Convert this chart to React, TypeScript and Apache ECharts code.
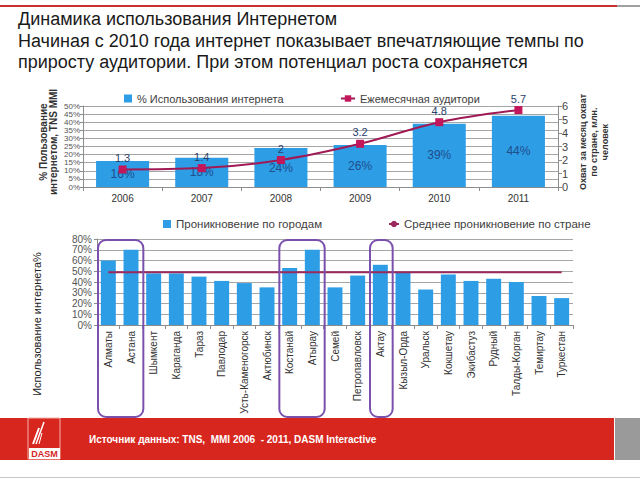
import React, { useEffect, useRef } from "react";
import * as echarts from "echarts";

const years = ["2006", "2007", "2008", "2009", "2010", "2011"];
const usagePct = [16, 18, 24, 26, 39, 44];
const audienceMln = [1.3, 1.4, 2, 3.2, 4.8, 5.7];

const cities = [
  "Алматы", "Астана", "Шымкент", "Караганда", "Тараз", "Павлодар",
  "Усть-Каменогорск", "Актюбинск", "Костанай", "Атырау", "Семей",
  "Петропавловск", "Актау", "Кызыл-Орда", "Уральск", "Кокшетау",
  "Экибастуз", "Рудный", "Талды-Корган", "Темиртау", "Туркестан",
];
const cityPct = [60, 70, 48, 48, 45, 41, 39, 35, 53, 70, 35, 46, 56, 49, 33, 47, 41, 43, 40, 27, 25];
const countryAvgPct = 49;
const highlightGroups = [["Алматы", "Астана"], ["Костанай", "Атырау"], ["Актау", "Актау"]];

const titleLines = [
  "Динамика использования Интернетом",
  "Начиная с 2010 года интернет показывает впечатляющие темпы по",
  "приросту аудитории. При этом потенциал роста сохраняется",
];
const sourceText = "Источник данных: TNS,  MMI 2006  - 2011, DASM Interactive";

const FONT = "Liberation Sans, Arial, sans-serif";
const BLUE = "#2d9de6";
const LINE = "#a01a55";
const MARK = "#c2185b";

export default function App() {
  const ref = useRef<HTMLDivElement>(null);
  useEffect(() => {
    if (!ref.current) return;
    const chart = echarts.init(ref.current, null, { renderer: "svg" });
    const option: any = {
      animation: false,
      textStyle: { fontFamily: FONT },
      legend: [
        {
          left: 119, top: 88, itemWidth: 8, itemHeight: 8, itemGap: 4,
          data: [{ name: "% Использования интернета", icon: "rect" }],
          textStyle: { fontSize: 11, color: "#404040", fontFamily: FONT },
        },
        {
          left: 335, top: 88, itemWidth: 14, itemHeight: 8,
          data: ["Ежемесячная аудитори"],
          textStyle: { fontSize: 11, color: "#404040", fontFamily: FONT },
        },
        {
          left: 158, top: 213, itemWidth: 8, itemHeight: 8,
          data: [{ name: "Проникновение по городам", icon: "rect" }],
          textStyle: { fontSize: 11.5, color: "#404040", fontFamily: FONT },
        },
        {
          left: 383, top: 213, itemWidth: 10, itemHeight: 8,
          data: ["Среднее проникновение по стране"],
          textStyle: { fontSize: 11.5, color: "#404040", fontFamily: FONT },
        },
      ],
      grid: [
        { left: 83, right: 82, top: 106, bottom: 293 },
        { left: 97, right: 67, top: 239, bottom: 155 },
      ],
      xAxis: [
        {
          type: "category", gridIndex: 0, data: years,
          axisLine: { lineStyle: { color: "#8c8c8c" } },
          axisTick: { show: true, length: 4, lineStyle: { color: "#8c8c8c" } },
          axisLabel: { fontSize: 10, color: "#333", margin: 6 },
        },
        {
          type: "category", gridIndex: 1, data: cities,
          axisLine: { lineStyle: { color: "#8c8c8c" } },
          axisTick: { show: true, length: 4, lineStyle: { color: "#8c8c8c" } },
          axisLabel: { fontSize: 10, color: "#333", rotate: 90, margin: 6, interval: 0 },
        },
      ],
      yAxis: [
        {
          type: "value", gridIndex: 0, min: 0, max: 50, interval: 5,
          axisLine: { show: true, lineStyle: { color: "#8c8c8c" } },
          axisTick: { show: true, length: 3, lineStyle: { color: "#8c8c8c" } },
          axisLabel: {
            fontSize: 8, lineHeight: 8, color: "#555", margin: 3, formatter: "{value}%",
            showMinLabel: true, showMaxLabel: true,
          },
          splitLine: { lineStyle: { color: "#a6a6a6" } },
        },
        {
          type: "value", gridIndex: 0, min: 0, max: 6, interval: 1, position: "right",
          axisLine: { show: true, lineStyle: { color: "#8c8c8c" } },
          axisTick: { show: true, length: 4, lineStyle: { color: "#8c8c8c" } },
          axisLabel: { fontSize: 11, color: "#444", margin: 4, showMinLabel: true, showMaxLabel: true },
          splitLine: { show: false },
        },
        {
          type: "value", gridIndex: 1, min: 0, max: 80, interval: 10,
          axisLine: { show: true, lineStyle: { color: "#8c8c8c" } },
          axisTick: { show: true, length: 3, lineStyle: { color: "#8c8c8c" } },
          axisLabel: { fontSize: 10, color: "#555", margin: 5, formatter: "{value}%" },
          splitLine: { lineStyle: { color: "#a6a6a6" } },
        },
      ],
      series: [
        {
          name: "% Использования интернета", type: "bar", xAxisIndex: 0, yAxisIndex: 0,
          data: usagePct, barWidth: "67%", itemStyle: { color: BLUE },
          label: { show: true, position: "inside", formatter: "{c}%", fontSize: 12, color: "#1f4e8c" },
        },
        {
          name: "Ежемесячная аудитори", type: "line", xAxisIndex: 0, yAxisIndex: 1,
          data: audienceMln, smooth: 0.35, symbol: "rect", symbolSize: 8,
          lineStyle: { color: LINE, width: 2 }, itemStyle: { color: MARK },
          label: { show: true, position: "top", distance: 2, fontSize: 11, color: "#2a3f6a" },
        },
        {
          name: "Проникновение по городам", type: "bar", xAxisIndex: 1, yAxisIndex: 2,
          data: cityPct, barWidth: "66%", itemStyle: { color: BLUE },
        },
        {
          name: "Среднее проникновение по стране", type: "line", xAxisIndex: 1, yAxisIndex: 2,
          data: cities.map(() => countryAvgPct), symbol: "none",
          lineStyle: { color: "#9b2a5c", width: 2 }, itemStyle: { color: "#9b2a5c" },
        },
      ],
    };
    chart.setOption(option);

    const cx = (name: string) => chart.convertToPixel({ xAxisIndex: 1 }, name) as number;
    const cw = cx(cities[1]) - cx(cities[0]);
    const yTop = (chart.convertToPixel({ yAxisIndex: 2 }, 80) as number) + 1;
    const yZero = chart.convertToPixel({ yAxisIndex: 2 }, 0) as number;
    const boxes = highlightGroups.map(([a, b]) => {
      const x1 = cx(a) - cw / 2 + 1;
      const x2 = cx(b) + cw / 2 + 1;
      return {
        type: "rect",
        shape: { x: x1, y: yTop, width: x2 - x1, height: yZero - yTop + 92, r: 8 },
        style: { fill: "none", stroke: "#7a50ad", lineWidth: 2 },
        z: 100,
      };
    });

    const elements: any[] = [
      { type: "rect", shape: { x: 0, y: 5, width: 617, height: 2 }, style: { fill: "#c8312c" } },
      { type: "rect", shape: { x: 617, y: 5, width: 23, height: 2 }, style: { fill: "#a0a0a0" } },
      ...titleLines.map((t, i) => ({
        type: "text", x: 18, y: 19 + i * 21.5,
        style: { text: t, fontSize: 18, fontFamily: FONT, fill: "#1a1a1a", verticalAlign: "middle" },
      })),
      {
        type: "text", x: 48, y: 142, rotation: Math.PI / 2,
        style: {
          text: "% Пользование\nинтернетом, TNS MMI", fontSize: 10, fontWeight: "bold", lineHeight: 10,
          fontFamily: FONT, fill: "#333", align: "center", verticalAlign: "middle",
        },
      },
      {
        type: "text", x: 594, y: 142, rotation: Math.PI / 2,
        style: {
          text: "Охват за месяц охват\nпо стране, млн.\nчеловек", fontSize: 9, fontWeight: "bold", lineHeight: 11,
          fontFamily: FONT, fill: "#333", align: "center", verticalAlign: "middle",
        },
      },
      {
        type: "text", x: 37, y: 324, rotation: Math.PI / 2,
        style: {
          text: "Использование интернета%", fontSize: 11,
          fontFamily: FONT, fill: "#222", align: "center", verticalAlign: "middle",
        },
      },
      ...boxes,
      { type: "rect", shape: { x: 0, y: 418, width: 614, height: 42 }, style: { fill: "#d7261e" } },
      { type: "rect", shape: { x: 615, y: 418, width: 25, height: 42 }, style: { fill: "#9a9a9a" } },
      { type: "rect", shape: { x: 28, y: 418, width: 32, height: 41 }, style: { fill: "none", stroke: "#f4b3ae", lineWidth: 1 } },
      { type: "rect", shape: { x: 29, y: 448, width: 31, height: 11 }, style: { fill: "#ffffff" } },
      {
        type: "text", x: 44.5, y: 454,
        style: { text: "DASM", fontSize: 9, fontWeight: "bold", fontFamily: FONT, fill: "#d7261e", align: "center", verticalAlign: "middle" },
      },
      { type: "line", shape: { x1: 33, y1: 444, x2: 39, y2: 428 }, style: { stroke: "#fff", lineWidth: 2 } },
      { type: "line", shape: { x1: 36, y1: 444, x2: 44, y2: 422 }, style: { stroke: "#fff", lineWidth: 1.5 } },
      { type: "line", shape: { x1: 39, y1: 444, x2: 42, y2: 433 }, style: { stroke: "#fff", lineWidth: 1 } },
      {
        type: "text", x: 89, y: 439,
        style: { text: sourceText, fontSize: 10, fontWeight: "bold", fontFamily: FONT, fill: "#ffffff", verticalAlign: "middle" },
      },
      { type: "rect", shape: { x: 0, y: 477, width: 640, height: 1 }, style: { fill: "#c8c8c8" } },
    ];
    chart.setOption({ graphic: [{ elements }] });

    return () => chart.dispose();
  }, []);
  return (
    <div
      ref={ref}
      style={{ position: "absolute", left: 0, top: 0, width: 640, height: 480, background: "#fff" }}
    />
  );
}
